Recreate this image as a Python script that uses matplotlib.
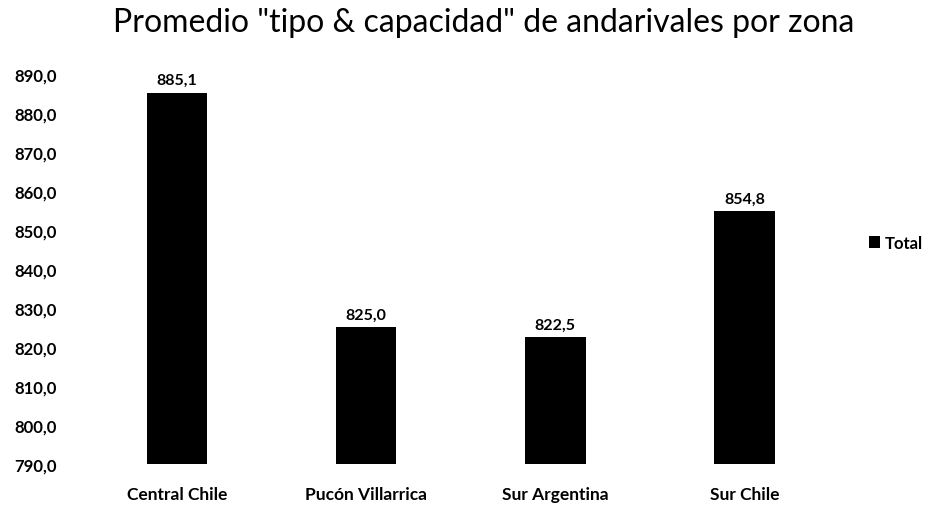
import matplotlib.pyplot as plt

# average "tipo & capacidad" per zone
zonas = ["Central Chile", "Pucón Villarrica", "Sur Argentina", "Sur Chile"]
promedio = [885.1, 825.0, 822.5, 854.8]
y_ticks = [790, 800, 810, 820, 830, 840, 850, 860, 870, 880, 890]

plt.rcParams['font.family'] = ['Lato', 'DejaVu Sans']

fig = plt.figure(figsize=(9.45, 5.06), dpi=100)
ax = fig.add_axes([0.087, 0.081, 0.801, 0.771])

x = range(len(zonas))
bars = ax.bar(x, promedio, width=0.32, color='black', label='Total', bottom=0)
ax.set_ylim(790, 890)
ax.set_xlim(-0.5, len(zonas) - 0.5)

ax.set_yticks(y_ticks)
ax.set_yticklabels([f"{v:.1f}".replace('.', ',') for v in y_ticks], fontsize=12, fontweight='bold')
ax.set_xticks(list(x))
ax.set_xticklabels(zonas, fontsize=12.5, fontweight='bold')
ax.tick_params(length=0, pad=16)
ax.tick_params(axis='y', pad=18)

for b, v in zip(bars, promedio):
    ax.text(b.get_x() + b.get_width() / 2, v + 1.5, f"{v:.1f}".replace('.', ','),
            ha='center', va='bottom', fontsize=11.5, fontweight='bold')

for s in ax.spines.values():
    s.set_visible(False)

fig.suptitle('Promedio "tipo & capacidad" de andarivales por zona',
             fontsize=23, fontweight='normal', x=0.512, y=0.985)

ax.legend(loc='center left', bbox_to_anchor=(1.03, 0.567), frameon=False,
          handlelength=0.7, handletextpad=0.3, borderaxespad=0,
          prop={'weight': 'bold', 'size': 12})

fig.savefig('out.png', dpi=100)
